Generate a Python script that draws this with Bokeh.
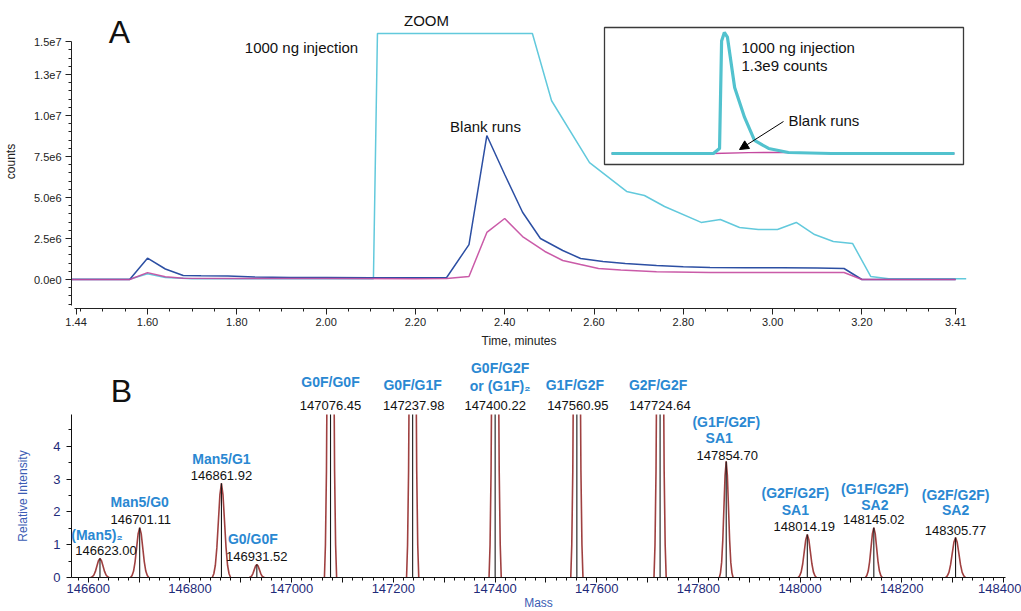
import numpy as np
from bokeh.plotting import figure
from bokeh.models import (Range1d, FixedTicker, Label, LabelSet, ColumnDataSource,
                          Arrow, NormalHead, CustomJSTickFormatter, NumeralTickFormatter)
from bokeh.core.properties import value
from bokeh.layouts import column
from bokeh.embed import file_html
from bokeh.resources import INLINE

FONT = "Liberation Sans"

# ---------------- Panel A data (time in minutes, counts) ----------------
blue_t = [1.43, 1.56, 1.60, 1.64, 1.68, 1.72, 1.78, 1.84, 1.92, 2.00, 2.10, 2.20, 2.27,
          2.32, 2.36, 2.40, 2.44, 2.48, 2.53, 2.57, 2.62, 2.67, 2.74, 2.80, 2.86, 2.94,
          3.02, 3.10, 3.16, 3.20, 3.41]
blue_counts = [0, 0, 1.30e6, 0.64e6, 0.24e6, 0.23e6, 0.22e6, 0.16e6, 0.12e6, 0.12e6,
               0.10e6, 0.10e6, 0.12e6, 2.13e6, 8.78e6, 6.40e6, 4.10e6, 2.50e6, 1.77e6,
               1.28e6, 1.10e6, 0.98e6, 0.85e6, 0.78e6, 0.73e6, 0.72e6, 0.72e6, 0.70e6,
               0.67e6, 0.0, 0.0]

magenta_t = [1.43, 1.56, 1.60, 1.64, 1.68, 1.80, 2.00, 2.20, 2.27, 2.32, 2.36, 2.40,
             2.44, 2.49, 2.53, 2.57, 2.61, 2.66, 2.74, 2.86, 3.00, 3.16, 3.20, 3.41]
magenta_counts = [0, 0, 0.42e6, 0.17e6, 0.08e6, 0.06e6, 0.06e6, 0.05e6, 0.06e6, 0.18e6,
                  2.87e6, 3.72e6, 2.62e6, 1.71e6, 1.16e6, 0.91e6, 0.67e6, 0.58e6, 0.48e6,
                  0.43e6, 0.43e6, 0.43e6, 0.0, 0.0]

cyan_t = [1.43, 1.56, 1.60, 1.64, 1.70, 2.10, 2.106, 2.115, 2.462, 2.505, 2.59, 2.673,
          2.713, 2.758, 2.84, 2.883, 2.926, 2.968, 3.011, 3.053, 3.094, 3.136, 3.179,
          3.22, 3.26, 3.434]
cyan_counts = [0.02e6, 0.02e6, 0.35e6, 0.12e6, 0.05e6, 0.05e6, 0.05e6, 15.0e6, 15.0e6,
               10.9e6, 7.13e6, 5.37e6, 5.12e6, 4.45e6, 3.48e6, 3.66e6, 3.17e6, 3.05e6,
               3.05e6, 3.48e6, 2.74e6, 2.32e6, 2.20e6, 0.18e6, 0.05e6, 0.05e6]

# inset (full run, arbitrary time units)
inset_cyan_t = [0.0, 2.97, 3.15, 3.21, 3.29, 3.38, 3.59, 3.88, 4.17, 4.58, 5.16, 6.41, 10.0]
inset_cyan_counts = [0, 0, 0.054e9, 1.21e9, 1.30e9, 1.25e9, 0.71e9, 0.387e9, 0.14e9,
                     0.054e9, 0.011e9, 0, 0]
inset_mag_t = [0.0, 2.97, 4.0, 5.0, 6.0, 10.0]
inset_mag_counts = [0, 0, 0.010e9, 0.012e9, 0.004e9, 0]

a_major_ticks = [1.44, 1.60, 1.80, 2.00, 2.20, 2.40, 2.60, 2.80, 3.00, 3.20, 3.41]
a_y_ticks = [0, 2.5e6, 5.0e6, 7.5e6, 1.0e7, 1.25e7, 1.45e7]

# ---------------- Panel B data (deconvoluted mass spectrum) ----------------
masses = [146623.00, 146701.11, 146861.92, 146931.52, 147076.45, 147237.98, 147400.22,
          147560.95, 147724.64, 147854.70, 148014.19, 148145.02, 148305.77]
heights = [0.58, 1.52, 2.87, 0.40, 25.0, 25.0, 25.0, 25.0, 25.0, 3.54, 1.31, 1.52, 1.22]
peak_widths = [6.0, 6.0, 6.0, 5.0, 4.0, 4.0, 4.0, 4.0, 4.0, 4.5, 6.0, 5.5, 6.5]
profile_offsets = [-3.0, -2.5, -2.0, -1.5, -1.0, -0.5, 0.0, 0.5, 1.0, 1.5, 2.0, 2.5, 3.0]
profile_shape = [0.0, 0.04, 0.13, 0.32, 0.60, 0.88, 1.0, 0.88, 0.60, 0.32, 0.13, 0.04, 0.0]

name_peak = [0, 1, 2, 3, 4, 5, 6, 6, 7, 8, 9, 9, 10, 10, 11, 11, 12, 12]
name_text = ["(Man5)\u2082", "Man5/G0", "Man5/G1", "G0/G0F", "G0F/G0F", "G0F/G1F",
             "G0F/G2F", "or (G1F)\u2082", "G1F/G2F", "G2F/G2F", "(G1F/G2F)", "SA1",
             "(G2F/G2F)", "SA1", "(G1F/G2F)", "SA2", "(G2F/G2F)", "SA2"]
name_y = [1.31, 2.29, 3.60, 1.16, 5.95, 5.88, 6.40, 5.85, 5.88, 5.88, 4.75, 4.25,
          2.59, 2.07, 2.71, 2.20, 2.53, 2.07]
name_dx = [-3, 0, 0, -4, 0, 0, 5, 5, -2, -2, 0, -7, -12, -12, 1, 1, 0, 0]
number_y = [0.82, 1.77, 3.11, 0.64, 5.24, 5.24, 5.24, 5.24, 5.24, 3.72, 1.55, 1.77, 1.43]
number_dx = [6, 1, 0, 0, 0, 1, 0, 1, 0, 1, -3, 0, 0]

# ---------------- Panel A figure ----------------
AL, AR, AT, AB = 70, 965, 14, 308
A_BOTTOM_BORDER = 40
px_per_min = 446.5
cnt_per_px = 60976.0
x0 = 1.60 - (146 - AL) / px_per_min
x1 = 1.60 + (AR - 146) / px_per_min
y0 = -(AB - 279) * cnt_per_px
y1 = (279 - AT) * cnt_per_px

p = figure(frame_width=AR - AL, frame_height=AB - AT,
           x_range=Range1d(x0, x1), y_range=Range1d(y0, y1),
           min_border_left=AL, min_border_top=AT, min_border_right=1021 - AR,
           min_border_bottom=A_BOTTOM_BORDER, output_backend="svg", toolbar_location=None)
p.outline_line_color = None
p.grid.visible = False

for ax in (p.xaxis[0], p.yaxis[0]):
    ax.axis_line_color = "#222222"
    ax.major_tick_line_color = "#222222"
    ax.minor_tick_line_color = "#222222"
    ax.major_tick_in = 0
    ax.minor_tick_in = 0
    ax.major_tick_out = 6
    ax.minor_tick_out = 3
    ax.major_label_text_font = FONT
    ax.major_label_text_font_size = "11px"
    ax.major_label_text_color = "#222222"
    ax.axis_label_text_font = FONT
    ax.axis_label_text_font_size = "12px"
    ax.axis_label_text_font_style = "normal"
    ax.axis_label_text_color = "#222222"

p.xaxis.ticker = FixedTicker(ticks=a_major_ticks,
                             minor_ticks=[round(v, 2) for v in np.arange(1.45, 3.40, 0.05)])
p.xaxis.formatter = NumeralTickFormatter(format="0.00")
p.xaxis.bounds = (1.437, 3.412)
p.xaxis.axis_label = "Time, minutes"
p.xaxis.major_label_standoff = 3
p.xaxis.axis_label_standoff = 5

p.yaxis.ticker = FixedTicker(ticks=a_y_ticks,
                             minor_ticks=list(np.arange(-1.5e6, 1.45e7, 5e5)))
p.yaxis.formatter = CustomJSTickFormatter(code="return tick.toExponential(1).replace('e+','e');")
p.yaxis.bounds = (-1.59e6, 1.45e7)
p.yaxis.axis_label = "counts"
p.yaxis.major_label_standoff = 4
p.yaxis.axis_label_standoff = 13

p.line(cyan_t, cyan_counts, line_color="#62c9dc", line_width=1.5)
p.line(blue_t, blue_counts, line_color="#2c4fa3", line_width=1.5)
p.line(magenta_t, magenta_counts, line_color="#c4499f", line_width=1.5, line_alpha=0.9)

# inset, drawn in its own ranges mapped onto the upper right of the frame
i_px_per_unit = 34.3
i_cnt_per_px = 1.0744e7
ix0 = -(610 - AL) / i_px_per_unit
ix1 = 10.0 + (AR - 953) / i_px_per_unit
iy0 = -(AB - 153) * i_cnt_per_px
iy1 = 1.3e9 + (32 - AT) * i_cnt_per_px
p.extra_x_ranges = {"ix": Range1d(ix0, ix1)}
p.extra_y_ranges = {"iy": Range1d(iy0, iy1)}

p.quad(left=[(603 - 610) / i_px_per_unit], right=[(962 - 610) / i_px_per_unit],
       bottom=[-(164 - 153) * i_cnt_per_px], top=[1.3e9 + (32 - 27) * i_cnt_per_px],
       fill_color="white", line_color="#3a3a3a", line_width=1.3,
       x_range_name="ix", y_range_name="iy")
p.line(inset_mag_t, inset_mag_counts, line_color="#c4499f", line_width=1.3,
       x_range_name="ix", y_range_name="iy")
p.line(inset_cyan_t, inset_cyan_counts, line_color="#52c2ce", line_width=3.2,
       x_range_name="ix", y_range_name="iy")

def lab(fig, x, y, text, size="15px", align="center", color="#111111", bold=False, **kw):
    fig.add_layout(Label(x=x, y=y, text=text, text_font=FONT, text_font_size=size,
                         text_align=align, text_baseline="middle", text_color=color,
                         text_font_style="bold" if bold else "normal", **kw))

def tx(px):
    return 1.60 + (px - 146) / px_per_min

def ty(py):
    return (279 - py) * cnt_per_px

lab(p, tx(118), ty(31), "A", size="32px")
lab(p, tx(425), ty(20), "ZOOM")
lab(p, tx(300), ty(47), "1000 ng injection")
lab(p, tx(484), ty(126), "Blank runs")

def ix(px):
    return (px - 610) / i_px_per_unit

def iy(py):
    return (153 - py) * i_cnt_per_px

lab(p, ix(740), iy(47), "1000 ng injection", align="left", x_range_name="ix", y_range_name="iy")
lab(p, ix(740), iy(65), "1.3e9 counts", align="left", x_range_name="ix", y_range_name="iy")
lab(p, ix(787), iy(120), "Blank runs", align="left", x_range_name="ix", y_range_name="iy")
p.add_layout(Arrow(end=NormalHead(size=9, fill_color="black", line_color="black"),
                   x_start=ix(782), y_start=iy(121), x_end=ix(738), y_end=iy(149),
                   line_width=1, line_color="black", x_range_name="ix", y_range_name="iy"))

# ---------------- Panel B: label strip + spectrum ----------------
BL, BR, BTOP, BT, BB = 68, 1002, 356, 412, 575
px_per_unit = 32.8
m0, m1 = 146567.0, 148404.0
ymax = (BB - BT) / px_per_unit          # top of the intensity axis (~4.97)
y_strip_top = (BB - BTOP) / px_per_unit  # labels above the axis
top_height = AB + A_BOTTOM_BORDER
xr = Range1d(m0, m1)

s = figure(frame_width=BR - BL, frame_height=BT - BTOP, x_range=xr,
           y_range=Range1d(ymax, y_strip_top), x_axis_location=None, y_axis_location=None,
           min_border_left=BL, min_border_top=BTOP - top_height,
           min_border_right=1021 - BR, min_border_bottom=0,
           output_backend="svg", toolbar_location=None)
s.outline_line_color = None
s.grid.visible = False

q = figure(frame_width=BR - BL, frame_height=BB - BT,
           x_range=xr, y_range=Range1d(0, ymax),
           min_border_left=BL, min_border_top=0,
           min_border_right=1021 - BR, min_border_bottom=0,
           output_backend="svg", toolbar_location=None)
q.outline_line_color = None
q.grid.visible = False

for ax in (q.xaxis[0], q.yaxis[0]):
    ax.axis_line_color = "#111111"
    ax.major_tick_line_color = "#111111"
    ax.minor_tick_line_color = "#111111"
    ax.major_tick_in = 0
    ax.minor_tick_in = 0
    ax.major_tick_out = 5
    ax.minor_tick_out = 3
    ax.major_label_text_font = FONT
    ax.major_label_text_font_size = "13px"
    ax.major_label_text_color = "#1f2b7a"
    ax.axis_label_text_font = FONT
    ax.axis_label_text_font_size = "12px"
    ax.axis_label_text_font_style = "normal"
    ax.axis_label_text_color = "#3b5cb4"

q.xaxis.ticker = FixedTicker(ticks=list(range(146600, 148401, 100)),
                             minor_ticks=list(range(146580, 148401, 20)))
q.xaxis.formatter = CustomJSTickFormatter(code="return (tick % 200 == 0) ? tick.toFixed(0) : '';")
q.xaxis.axis_label = "Mass"
q.xaxis.major_label_standoff = 1
q.xaxis.axis_label_standoff = 0
q.yaxis.ticker = FixedTicker(ticks=[0, 1, 2, 3, 4], minor_ticks=[0.5, 1.5, 2.5, 3.5, 4.5])
q.yaxis.axis_label = "Relative Intensity"
q.yaxis.major_label_standoff = 6
q.yaxis.axis_label_standoff = 20

xs, ys = [], []
for m, h, w in zip(masses, heights, peak_widths):
    xs.append([m + o * w for o in profile_offsets])
    ys.append([h * sh for sh in profile_shape])
q.multi_line(xs, ys, line_color="#8e1f1f", line_width=1.6, line_alpha=0.85)
q.segment(x0=masses, y0=[0] * len(masses), x1=masses, y1=heights,
          line_color="#1a1a1a", line_width=1.1)

def add_labels(x, y, text, dx, font_size, color, bold):
    lo = [i for i in range(len(y)) if y[i] < ymax]
    hi = [i for i in range(len(y)) if y[i] >= ymax]
    for fig, idx in ((q, lo), (s, hi)):
        src = ColumnDataSource(dict(x=[x[i] for i in idx], y=[y[i] for i in idx],
                                    text=[text[i] for i in idx], dx=[dx[i] for i in idx]))
        fig.add_layout(LabelSet(x="x", y="y", text="text", x_offset="dx", source=src,
                                text_font=value(FONT), text_font_size=font_size,
                                text_font_style="bold" if bold else "normal",
                                text_color=color, text_align="center",
                                text_baseline="middle"))

add_labels([masses[i] for i in name_peak], name_y, name_text, name_dx, "14px", "#2a88d2", True)
add_labels(masses, number_y, [f"{m:.2f}" for m in masses], number_dx, "13px", "#111111", False)

lab(s, m0 + (118 - BL) / ((BR - BL) / (m1 - m0)), (BB - 388) / px_per_unit, "B", size="32px")

layout = column(p, s, q, spacing=0)
open("out.html", "w").write(file_html(layout, INLINE))
